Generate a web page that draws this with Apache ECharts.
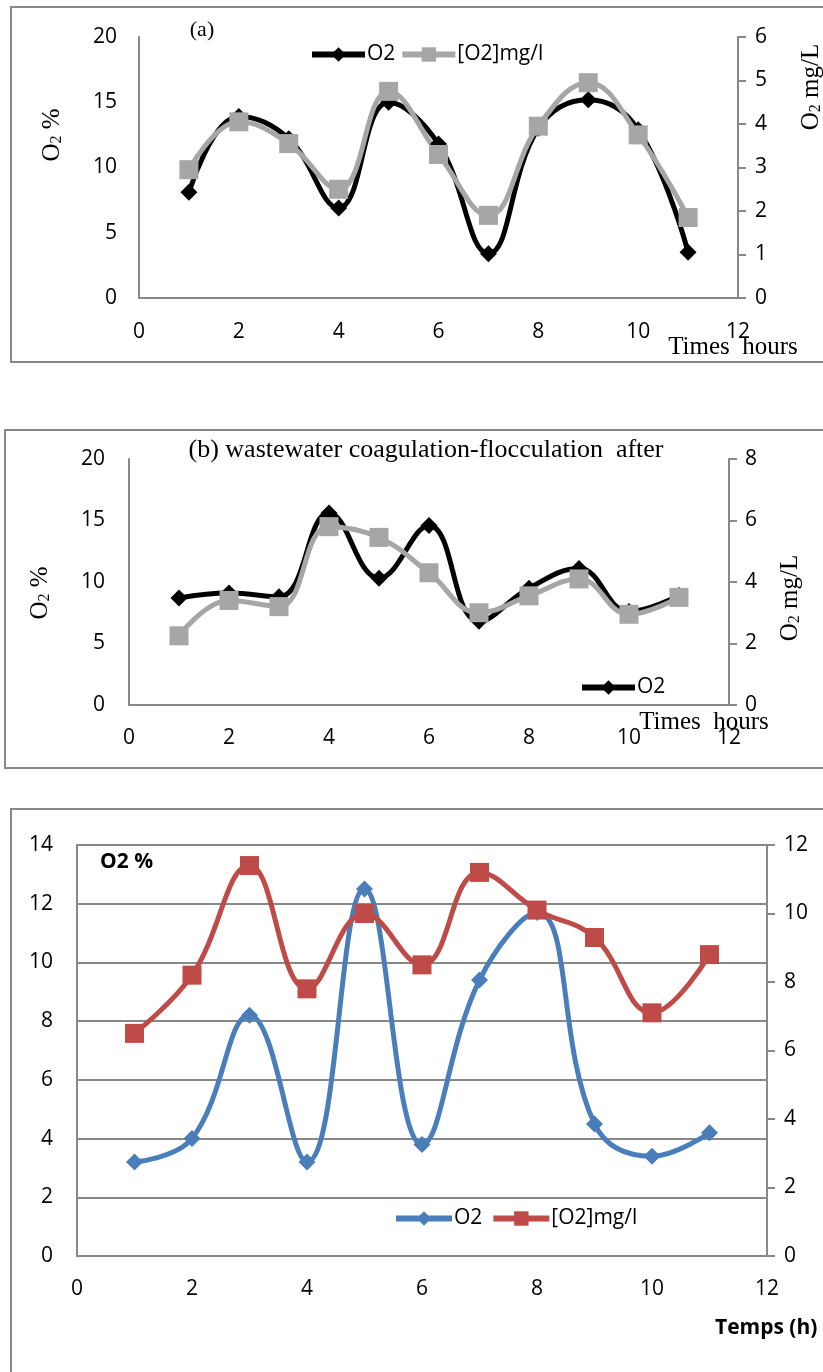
<!DOCTYPE html>
<html><head><meta charset="utf-8">
<script src="https://cdn.jsdelivr.net/npm/echarts@6/dist/echarts.min.js"></script>
<style>html,body{margin:0;padding:0;background:#fff}#c{width:823px;height:1372px}</style>
</head><body><div id="c"></div>
<script>
// ---- data ----
const hours = [1, 2, 3, 4, 5, 6, 7, 8, 9, 10, 11];
const xTicks = [0, 2, 4, 6, 8, 10, 12];
const seriesNames = ['O2', '[O2]mg/l'];
// panel (a)
const aO2pct = [8.1, 13.9, 12.2, 6.9, 15.0, 11.8, 3.4, 13.0, 15.2, 12.9, 3.5];
const aO2mg  = [2.95, 4.05, 3.55, 2.5, 4.75, 3.3, 1.9, 3.95, 4.95, 3.75, 1.85];
// panel (b)
const bO2pct = [8.7, 9.1, 8.8, 15.6, 10.3, 14.6, 6.8, 9.5, 11.1, 7.6, 8.9];
const bO2mg  = [2.25, 3.4, 3.2, 5.8, 5.45, 4.3, 3.0, 3.55, 4.1, 2.95, 3.5];
// panel (c)
const cO2pct = [3.2, 4.0, 8.2, 3.2, 12.5, 3.8, 9.4, 11.7, 4.5, 3.4, 4.2];
const cO2mg  = [6.5, 8.2, 11.4, 7.8, 10.0, 8.5, 11.2, 10.1, 9.3, 7.1, 8.8];
// axis ranges
const aLeft = {min: 0, max: 20, interval: 5}, aRight = {min: 0, max: 6, interval: 1};
const bLeft = {min: 0, max: 20, interval: 5}, bRight = {min: 0, max: 8, interval: 2};
const cLeft = {min: 0, max: 14, interval: 2}, cRight = {min: 0, max: 12, interval: 2};

const pairs = arr => hours.map((h, i) => [h, arr[i]]);
const SANS = '"Open Sans", sans-serif';
const SERIF = '"Liberation Serif", "Times New Roman", serif';
const AX = '#888888';
const lab = (m) => ({margin: m, fontSize: 21, color: '#000', fontFamily: SANS});

function xAx(gi, margin) {
  return {type: 'value', gridIndex: gi, min: xTicks[0], max: xTicks[xTicks.length - 1], interval: 2,
    axisLine: {show: true, lineStyle: {color: AX, width: 2}}, axisTick: {show: false},
    splitLine: {show: false}, axisLabel: lab(margin)};
}
function yAx(gi, r, pos, margin, opts) {
  opts = opts || {};
  return {type: 'value', gridIndex: gi, position: pos, min: r.min, max: r.max, interval: r.interval,
    axisLine: {show: true, onZero: false, lineStyle: {color: AX, width: 2}},
    axisTick: {show: !!opts.ticks, inside: false, length: 8, lineStyle: {color: AX, width: 2}},
    splitLine: {show: !!opts.split, lineStyle: {color: AX, width: 2}},
    axisLabel: lab(margin)};
}
function lineSeries(name, xi, yi, data, color, symbol, size, width) {
  return {type: 'line', name: name, xAxisIndex: xi, yAxisIndex: yi, data: pairs(data),
    smooth: 0.42, symbol: symbol, symbolSize: size, showSymbol: true,
    lineStyle: {color: color, width: width}, itemStyle: {color: color}, emphasis: {disabled: true},
    animation: false};
}
function vtext(x, y, main, sub, rest, size) {
  return {type: 'text', x: x, y: y, rotation: Math.PI / 2,
    style: {text: '{m|' + main + '}{s|' + sub + '}{m|' + rest + '}', align: 'center', verticalAlign: 'middle',
      rich: {m: {fontSize: size, fontFamily: SERIF, fill: '#000', lineHeight: size + 4},
             s: {fontSize: Math.round(size * 0.65), fontFamily: SERIF, fill: '#000', padding: [10, 0, 0, 0]}}}};
}
function text(x, y, t, size, font, weight, align) {
  return {type: 'text', x: x, y: y, style: {text: t, fontSize: size, fontFamily: font, fontWeight: weight || 'normal',
    fill: '#000', align: align || 'center', verticalAlign: 'middle'}};
}
const fmt = n => n.split(':')[1];
const legTxt = {fontSize: 21, fontFamily: SANS, color: '#000', padding: [0, 0, 0, -3]};

const chart = echarts.init(document.getElementById('c'), null, {renderer: 'canvas'});
chart.setOption({
  animation: false,
  backgroundColor: '#fff',
  grid: [
    {left: 139, top: 37, width: 599, height: 261},
    {left: 129, top: 459, width: 600, height: 246},
    {left: 77, top: 845, width: 690, height: 411}
  ],
  xAxis: [xAx(0, 24), xAx(1, 23), xAx(2, 23)],
  yAxis: [
    yAx(0, aLeft, 'left', 22),
    yAx(0, aRight, 'right', 17, {ticks: true}),
    yAx(1, bLeft, 'left', 24),
    yAx(1, bRight, 'right', 16, {ticks: true}),
    yAx(2, cLeft, 'left', 24, {split: true}),
    yAx(2, cRight, 'right', 17, {ticks: true})
  ],
  legend: [
    {left: 304, top: 39, itemWidth: 53, itemHeight: 18, itemGap: 4, data: ['a:' + seriesNames[0], 'a:' + seriesNames[1]],
      formatter: fmt, textStyle: legTxt, lineStyle: {width: 6}, selectedMode: false},
    {left: 574, top: 672, itemWidth: 53, itemHeight: 18, itemGap: 4, data: ['b:' + seriesNames[0]],
      formatter: fmt, textStyle: legTxt, lineStyle: {width: 6}, selectedMode: false},
    {left: 388, top: 1203, itemWidth: 56, itemHeight: 18, itemGap: 8, data: ['c:' + seriesNames[0], 'c:' + seriesNames[1]],
      formatter: fmt, textStyle: legTxt, lineStyle: {width: 6}, selectedMode: false}
  ],
  series: [
    lineSeries('a:' + seriesNames[0], 0, 0, aO2pct, '#000000', 'diamond', 17, 5),
    lineSeries('a:' + seriesNames[1], 0, 1, aO2mg, '#a6a6a6', 'rect', 19, 5),
    lineSeries('b:' + seriesNames[0], 1, 2, bO2pct, '#000000', 'diamond', 17, 5),
    lineSeries('b:' + seriesNames[1], 1, 3, bO2mg, '#a6a6a6', 'rect', 19, 5),
    lineSeries('c:' + seriesNames[0], 2, 4, cO2pct, '#4a7ebb', 'diamond', 17, 5),
    lineSeries('c:' + seriesNames[1], 2, 5, cO2mg, '#be4b48', 'rect', 19, 5)
  ],
  graphic: [
    {type: 'rect', shape: {x: 11, y: 7, width: 830, height: 355}, style: {fill: 'none', stroke: AX, lineWidth: 2}, silent: true},
    {type: 'rect', shape: {x: 5, y: 430, width: 830, height: 338}, style: {fill: 'none', stroke: AX, lineWidth: 2}, silent: true},
    {type: 'rect', shape: {x: 11, y: 809, width: 830, height: 620}, style: {fill: 'none', stroke: AX, lineWidth: 2}, silent: true},
    text(202, 30, '(a)', 22, SERIF),
    vtext(52, 135, 'O', '2', ' %', 25),
    vtext(811, 87, 'O', '2', ' mg/L', 25),
    text(733, 347, 'Times  hours', 25, SERIF),
    text(426, 450, '(b) wastewater coagulation-flocculation  after', 26, SERIF),
    vtext(40, 593, 'O', '2', ' %', 25),
    vtext(790, 598, 'O', '2', ' mg/L', 25),
    text(704, 722, 'Times  hours', 25, SERIF),
    text(100, 862, 'O2 %', 21, SANS, 'bold', 'left'),
    text(715, 1328, 'Temps (h)', 21, SANS, 'bold', 'left')
  ]
});
</script></body></html>
